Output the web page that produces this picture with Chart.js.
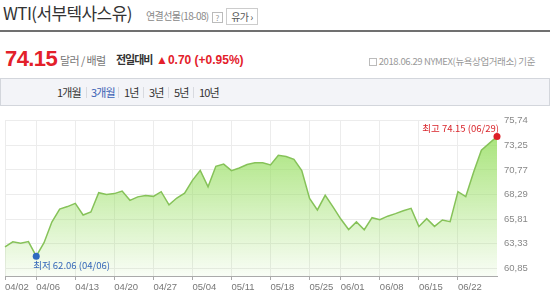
<!DOCTYPE html>
<html>
<head>
<meta charset="utf-8">
<script src="https://cdn.jsdelivr.net/npm/chart.js@4.4.0/dist/chart.umd.min.js"></script>
<style>
    body { margin: 0; width: 550px; height: 297px; overflow: hidden; background: #fff; position: relative;
           font-family: "Noto Sans CJK KR", "Noto Sans", sans-serif; }
    .abs { position: absolute; white-space: nowrap; line-height: 1; }
    #title { left: 3px; top: 4px; font-size: 17px; color: #333; letter-spacing: -0.6px; }
    #sub { left: 146px; top: 11px; font-size: 10px; color: #888; letter-spacing: -0.6px; }
    #help { left: 212px; top: 12px; width: 9px; height: 9px; border: 1px solid #bbb; font-size: 8px; color: #999; text-align: center; line-height: 9px; }
    #cat { left: 226px; top: 8px; width: 30px; height: 15px; border: 1px solid #ccc; font-size: 10px; color: #555; line-height: 15px; text-align: center; letter-spacing: -0.5px; }
    #rule { left: 0; top: 30px; width: 550px; height: 2px; background: #707070; }
    #price { left: 5px; top: 48px; font-size: 22px; font-weight: bold; color: #e3202a; font-family: "Liberation Sans", Arial, sans-serif; letter-spacing: -0.6px; }
    #unit { left: 60px; top: 55px; font-size: 11px; color: #777; letter-spacing: -0.6px; }
    #cmp { left: 116px; top: 54px; font-size: 11px; font-weight: bold; color: #333; letter-spacing: -1px; }
    #chg { left: 156px; top: 54px; font-size: 12px; font-weight: bold; color: #e3202a; font-family: "Liberation Sans", Arial, sans-serif; }
    #note { right: 15px; top: 57px; font-size: 9.5px; color: #999; letter-spacing: -0.4px; }
    #note i { display: inline-block; width: 6px; height: 6px; border: 1px solid #bbb; margin-right: 2px; vertical-align: -1px; }
    #tabs { left: 0; top: 78px; width: 548px; height: 26px; background: #f3f4f8; border: 1px solid #d3d6dc; }
    .tab { position: absolute; top: 8px; font-size: 11px; color: #333; letter-spacing: -0.8px; line-height: 1; white-space: nowrap; }
    .tab.on { color: #3b62b5; }
    .sep { position: absolute; top: 8px; width: 1px; height: 11px; background: #d8dae0; }
    #wrap { position: absolute; left: 0; top: 108px; width: 550px; height: 189px; }
</style>
</head>
<body>
<div class="abs" id="title">WTI(서부텍사스유)</div>
<div class="abs" id="sub">연결선물(18-08)</div>
<div class="abs" id="help">?</div>
<div class="abs" id="cat">유가 ›</div>
<div class="abs" id="rule"></div>
<div class="abs" id="price">74.15</div>
<div class="abs" id="unit">달러 / 배럴</div>
<div class="abs" id="cmp">전일대비</div>
<div class="abs" id="chg">▲0.70 (+0.95%)</div>
<div class="abs" id="note"><i></i>2018.06.29 NYMEX(뉴욕상업거래소) 기준</div>
<div class="abs" id="tabs">
    <span class="tab" style="left:56px">1개월</span>
    <span class="sep" style="left:85px"></span>
    <span class="tab on" style="left:90px">3개월</span>
    <span class="sep" style="left:117px"></span>
    <span class="tab" style="left:123px">1년</span>
    <span class="sep" style="left:142px"></span>
    <span class="tab" style="left:148px">3년</span>
    <span class="sep" style="left:167px"></span>
    <span class="tab" style="left:173px">5년</span>
    <span class="sep" style="left:192px"></span>
    <span class="tab" style="left:198px">10년</span>
</div>
<div id="wrap"><canvas id="chart"></canvas></div>
<script>
    // trading days 2018.04.02 ~ 2018.06.29
    const dates = [
        '04/02', '04/03', '04/04', '04/05', '04/06',
        '04/09', '04/10', '04/11', '04/12', '04/13',
        '04/16', '04/17', '04/18', '04/19', '04/20',
        '04/23', '04/24', '04/25', '04/26', '04/27',
        '04/30', '05/01', '05/02', '05/03', '05/04',
        '05/07', '05/08', '05/09', '05/10', '05/11',
        '05/14', '05/15', '05/16', '05/17', '05/18',
        '05/21', '05/22', '05/23', '05/24', '05/25',
        '05/29', '05/30', '05/31', '06/01',
        '06/04', '06/05', '06/06', '06/07', '06/08',
        '06/11', '06/12', '06/13', '06/14', '06/15',
        '06/18', '06/19', '06/20', '06/21', '06/22',
        '06/25', '06/26', '06/27', '06/28', '06/29'
    ];
    const prices = [
        63.01, 63.51, 63.37, 63.54, 62.06,
        63.42, 65.51, 66.82, 67.07, 67.39,
        66.22, 66.52, 68.47, 68.29, 68.38,
        68.64, 67.70, 68.05, 68.19, 68.10,
        68.57, 67.25, 67.93, 68.43, 69.72,
        70.73, 69.06, 71.14, 71.36, 70.70,
        70.96, 71.31, 71.49, 71.49, 71.28,
        72.24, 72.13, 71.84, 70.71, 67.88,
        66.73, 68.21, 67.04, 65.81,
        64.75, 65.52, 64.73, 65.95, 65.74,
        66.10, 66.36, 66.64, 66.89, 65.06,
        65.85, 65.07, 65.71, 65.54, 68.58,
        68.08, 70.53, 72.76, 73.45, 74.15
    ];
    const xTickLabels = ['04/02', '04/06', '04/13', '04/20', '04/27', '05/04', '05/11', '05/18', '05/25', '06/01', '06/08', '06/15', '06/22'];
    const yTicks = [60.85, 63.33, 65.81, 68.29, 70.77, 73.25, 75.74];
    const yMin = 60.06;
    const yMax = 75.74;

    const maxIdx = prices.indexOf(Math.max(...prices));
    const minIdx = prices.indexOf(Math.min(...prices));

    const hiLoLabels = {
        id: 'hiLoLabels',
        afterDatasetsDraw(chart) {
            const ctx = chart.ctx;
            const pts = chart.getDatasetMeta(0).data;
            const hi = pts[maxIdx], lo = pts[minIdx];
            ctx.save();
            ctx.font = '9.5px "Noto Sans CJK KR", sans-serif';
            ctx.textBaseline = 'middle';
            ctx.fillStyle = '#d9262c';
            ctx.textAlign = 'right';
            ctx.fillText('최고 ' + prices[maxIdx].toFixed(2) + ' (' + dates[maxIdx] + ')', hi.x + 2, hi.y - 8);
            ctx.fillStyle = '#3467b8';
            ctx.textAlign = 'left';
            ctx.fillText('최저 ' + prices[minIdx].toFixed(2) + ' (' + dates[minIdx] + ')', lo.x - 3, lo.y + 9);
            ctx.restore();
        }
    };

    new Chart(document.getElementById('chart'), {
        type: 'line',
        data: {
            labels: dates,
            datasets: [{
                data: prices,
                borderColor: '#86c259',
                borderWidth: 1.5,
                tension: 0,
                fill: 'start',
                clip: false,
                backgroundColor: (c) => {
                    const area = c.chart.chartArea;
                    if (!area) return 'rgba(160,225,110,0.5)';
                    const g = c.chart.ctx.createLinearGradient(0, area.top, 0, area.bottom);
                    g.addColorStop(0, 'rgba(150,222,95,0.9)');
                    g.addColorStop(1, 'rgba(150,222,95,0.06)');
                    return g;
                },
                pointRadius: (c) => (c.dataIndex === maxIdx || c.dataIndex === minIdx) ? 3.5 : 0,
                pointBackgroundColor: (c) => c.dataIndex === maxIdx ? '#dd1f26' : '#2f6bc0',
                pointBorderWidth: 0,
            }]
        },
        options: {
            responsive: true,
            maintainAspectRatio: false,
            animation: false,
            layout: {padding: {left: 5, top: 10, right: 0, bottom: 0}},
            plugins: {legend: {display: false}, tooltip: {enabled: false}},
            scales: {
                x: {
                    offset: false,
                    afterBuildTicks: (scale) => {
                        scale.ticks = scale.ticks.filter(t => xTickLabels.includes(dates[t.value]));
                    },
                    afterFit: (scale) => { scale.height = 21; },
                    grid: {color: '#ececec', tickLength: 4, tickColor: '#aaa'},
                    border: {color: '#aaa'},
                    ticks: {
                        autoSkip: false,
                        maxRotation: 0,
                        align: 'start',
                        padding: 2,
                        color: '#777',
                        font: {size: 9.5, family: '"Liberation Sans", Arial, sans-serif'},
                    },
                },
                y: {
                    position: 'right',
                    min: yMin,
                    max: yMax,
                    afterBuildTicks: (scale) => {
                        scale.ticks = yTicks.map(v => ({value: v}));
                    },
                    afterFit: (scale) => { scale.width = 53; },
                    grid: {color: '#ececec', drawTicks: false},
                    border: {display: false},
                    ticks: {
                        padding: 7,
                        color: '#888',
                        font: {size: 9.5, family: '"Liberation Sans", Arial, sans-serif'},
                        callback: (v) => v.toFixed(2).replace('.', ','),
                    },
                },
            },
        },
        plugins: [hiLoLabels],
    });
</script>
</body>
</html>
